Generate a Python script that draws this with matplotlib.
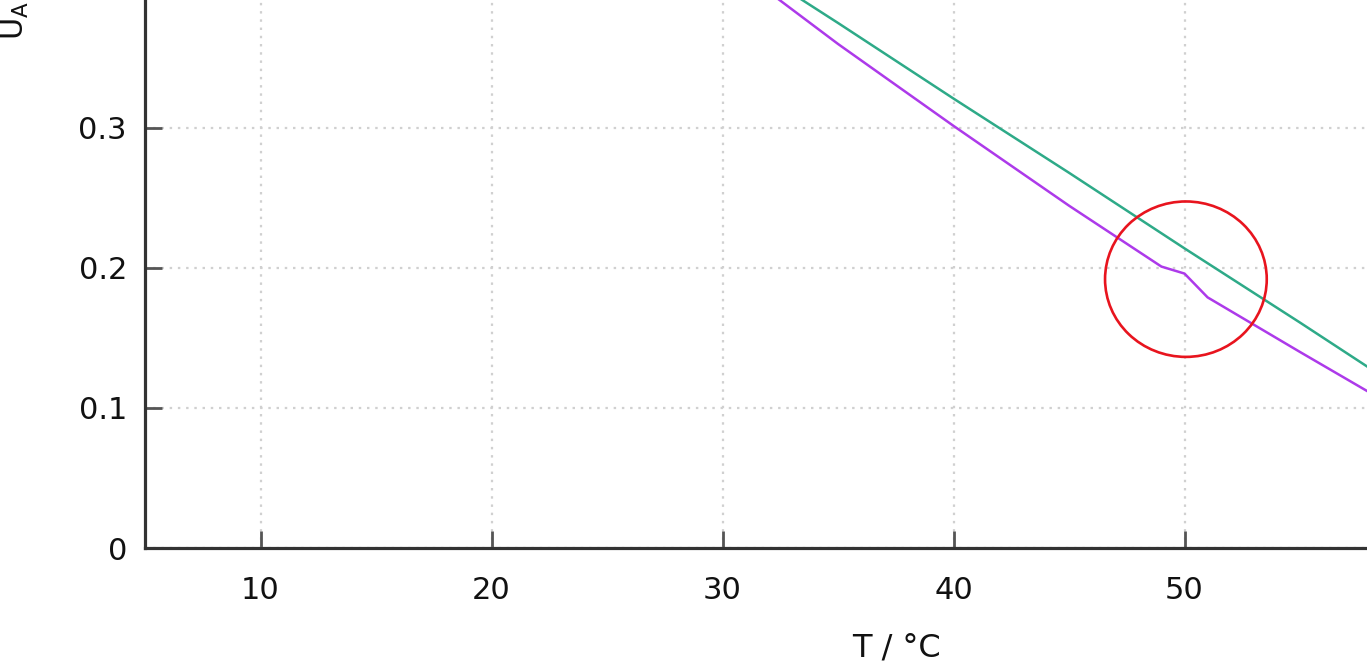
import matplotlib.pyplot as plt
from matplotlib.patches import Ellipse

# Temperatur in °C
temperature = [30, 35, 40, 45, 49, 50, 51, 55, 60]
# Messreihe mit Knick bei ~50 °C
ua_measured = [0.422, 0.360, 0.3015, 0.2445, 0.201, 0.196, 0.179, 0.140, 0.092]
# Vergleichsgerade
temperature_fit = [30, 35, 40, 45, 50, 55, 60]
ua_fit = [0.428, 0.375, 0.321, 0.268, 0.214, 0.161, 0.107]

x_ticks = [10, 20, 30, 40, 50]
y_ticks = [0, 0.1, 0.2, 0.3]
y_tick_labels = ["0", "0.1", "0.2", "0.3"]

# markierter Bereich (Mittelpunkt, Breite, Höhe in Datenkoordinaten)
mark_center = (50.06, 0.192)
mark_width = 7.0
mark_height = 0.111

fig = plt.figure(figsize=(13.67, 6.70), dpi=100)
ax = fig.add_axes([145 / 1367, 122 / 670, 1 - 145 / 1367, 1 - 122 / 670])

ax.plot(temperature_fit, ua_fit, color="#2eaa88", lw=1.8, zorder=3)
ax.plot(temperature, ua_measured, color="#ad3aea", lw=1.8, zorder=3)

ax.add_patch(Ellipse(mark_center, mark_width, mark_height, fill=False,
                     edgecolor="#e8141e", lw=1.9, zorder=4))

ax.set_xlim(5, 57.9)
ax.set_ylim(0, 0.3914)
ax.set_xticks(x_ticks)
ax.set_yticks(y_ticks)
ax.set_yticklabels(y_tick_labels)

ax.grid(True, color="#d0d0d0", lw=1.6, linestyle=(0, (1.1, 2.6)))
ax.set_axisbelow(True)

for side in ["top", "right"]:
    ax.spines[side].set_visible(False)
for side in ["left", "bottom"]:
    ax.spines[side].set_color("#333333")
    ax.spines[side].set_linewidth(2.3)

ax.tick_params(axis="both", direction="in", length=12.5, width=2, color="#555555",
               labelsize=22, labelcolor="#111111")
ax.tick_params(axis="x", pad=20)
ax.tick_params(axis="y", pad=13)

ax.set_xlabel("T / °C", fontsize=23, color="#111111", va="center")
ax.xaxis.set_label_coords(0.6146, -0.1825)

fig.text(15 / 1367, 1 - 40 / 670, r"$\mathrm{U_A}$", rotation=90, fontsize=22,
         ha="center", va="bottom", color="#111111")

fig.savefig("out.png", dpi=100)
